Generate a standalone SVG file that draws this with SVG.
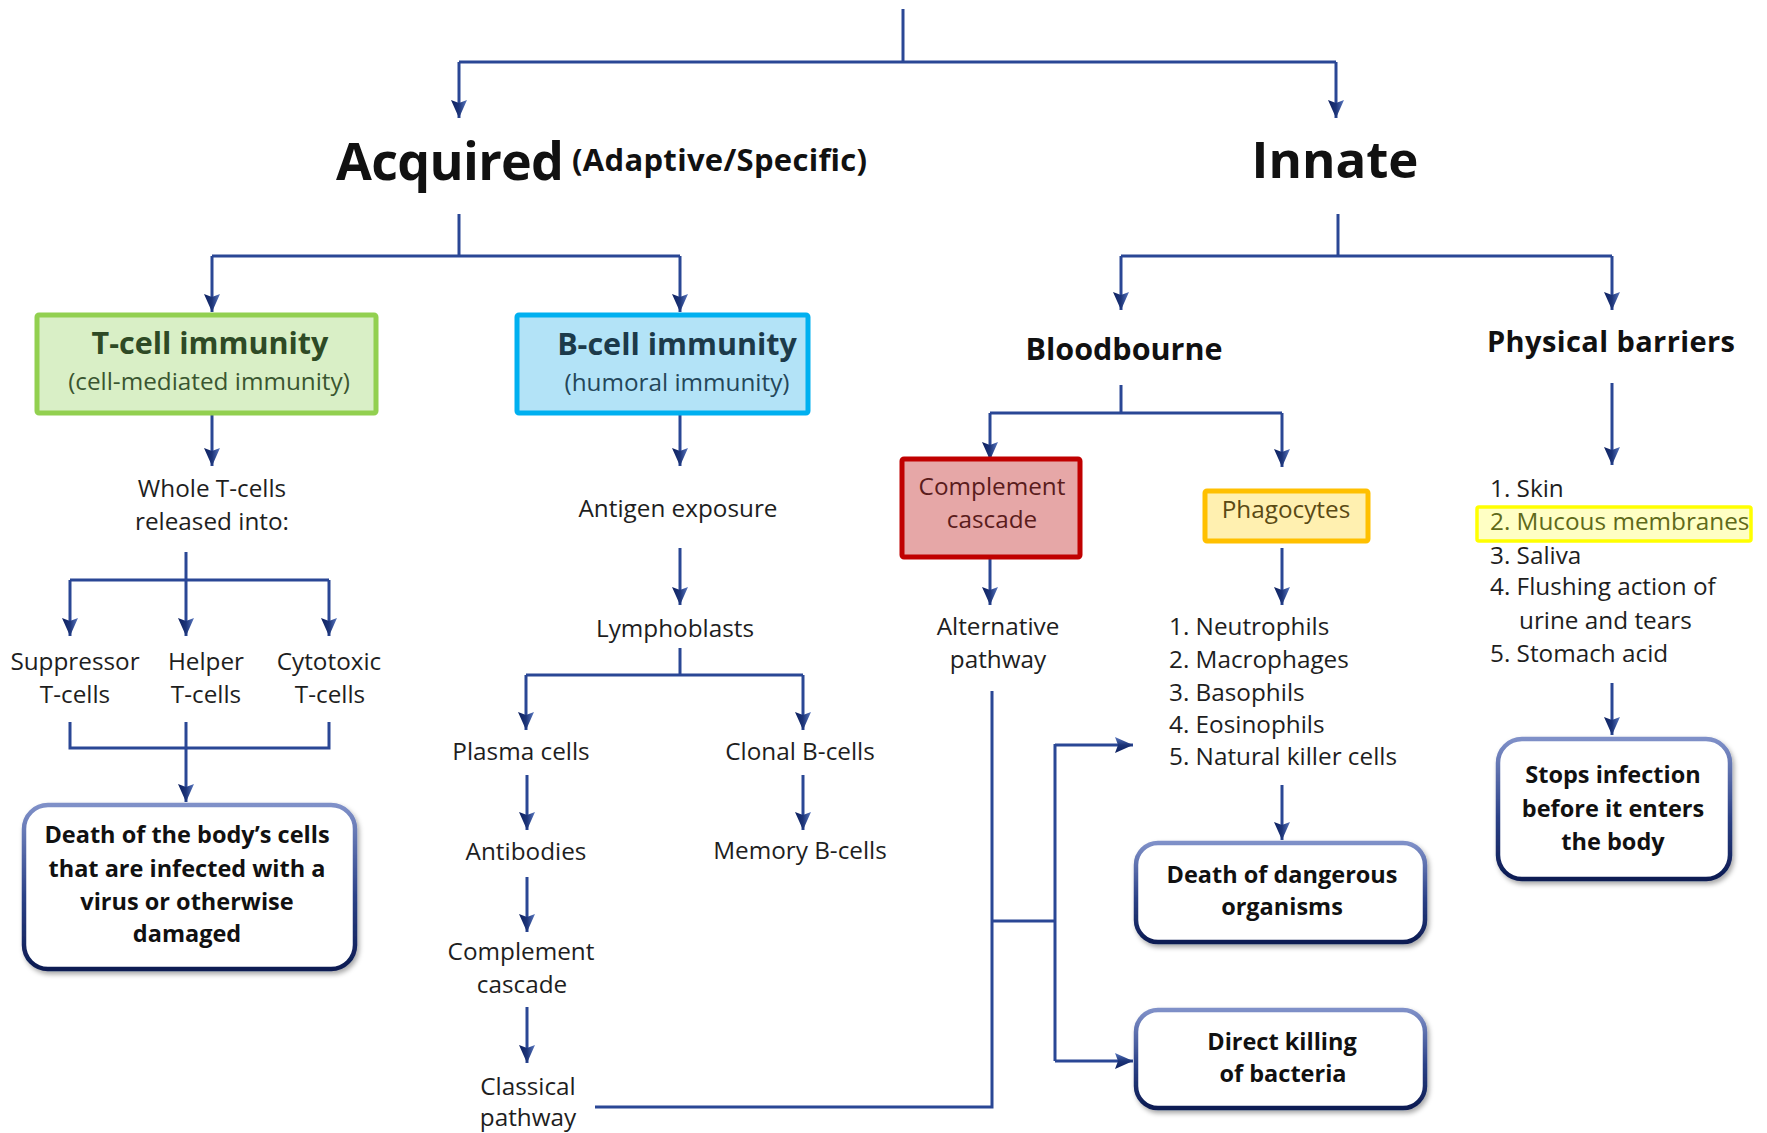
<svg xmlns="http://www.w3.org/2000/svg" width="1767" height="1133" viewBox="0 0 1767 1133">
  <defs>
    <linearGradient id="headFill" x1="0" y1="0" x2="0" y2="1">
      <stop offset="0" stop-color="#5a78c0"/>
      <stop offset="0.5" stop-color="#1c3478"/>
      <stop offset="1" stop-color="#0e2160"/>
    </linearGradient>
    <marker id="arrow" markerUnits="userSpaceOnUse" viewBox="0 0 18 16" markerWidth="18" markerHeight="16" refX="18" refY="8" orient="auto">
      <path d="M0,0 L18,8 L0,16 L3,8 z" fill="url(#headFill)"/>
    </marker>
    <linearGradient id="frame" x1="0" y1="0" x2="0" y2="1">
      <stop offset="0" stop-color="#7f90c8"/>
      <stop offset="0.55" stop-color="#2c4288"/>
      <stop offset="1" stop-color="#0c1b52"/>
    </linearGradient>
    <filter id="shadow" x="-10%" y="-10%" width="125%" height="130%">
      <feDropShadow dx="2" dy="3" stdDeviation="2.5" flood-color="#000" flood-opacity="0.35"/>
    </filter>
  </defs>
  <style>
    .t { font-family: "Open Sans", "Liberation Sans", sans-serif; font-size: 24.3px; fill: #1e1e1e; text-anchor: middle; }
    .l { text-anchor: start; }
    .b { font-family: "Open Sans", "Liberation Sans", sans-serif; font-weight: 700; fill: #111; text-anchor: middle; }
    .out { font-size: 23.5px; }
    .head { font-size: 30.5px; }
    .conn path { fill: none; stroke: #2a4795; stroke-width: 3; }
    .conn path.a { marker-end: url(#arrow); }
    .result { fill: #fff; stroke: url(#frame); stroke-width: 4.5; filter: url(#shadow); }
  </style>
  <rect width="1767" height="1133" fill="#fff"/>

  <!-- connectors -->
  <g id="connectors" class="conn">
    <path d="M903,9 V62"/>
    <path d="M459,62 H1336"/>
    <path class="a" d="M459,62 V118"/>
    <path class="a" d="M1336,62 V118"/>

    <path d="M459,214 V256"/>
    <path d="M212,256 H680"/>
    <path class="a" d="M212,256 V312"/>
    <path class="a" d="M680,256 V312"/>

    <path d="M1338,214 V256"/>
    <path d="M1121,256 H1612"/>
    <path class="a" d="M1121,256 V310"/>
    <path class="a" d="M1612,256 V310"/>

    <path class="a" d="M212,413 V466"/>
    <path d="M186,552 V580"/>
    <path d="M70,580 H329"/>
    <path class="a" d="M70,580 V636"/>
    <path class="a" d="M186,580 V636"/>
    <path class="a" d="M329,580 V636"/>
    <path d="M70,722 V748 H329 V722"/>
    <path class="a" d="M186,722 V802"/>

    <path class="a" d="M680,413 V466"/>
    <path class="a" d="M680,548 V605"/>
    <path d="M680,648 V675"/>
    <path d="M526,675 H803"/>
    <path class="a" d="M526,675 V730"/>
    <path class="a" d="M803,675 V730"/>
    <path class="a" d="M527,775 V830"/>
    <path class="a" d="M803,775 V830"/>
    <path class="a" d="M527,877 V932"/>
    <path class="a" d="M527,1007 V1063"/>

    <path d="M1121,385 V413"/>
    <path d="M990,413 H1282"/>
    <path class="a" d="M990,413 V460"/>
    <path class="a" d="M1282,413 V467"/>
    <path class="a" d="M990,548 V605"/>
    <path class="a" d="M1282,548 V605"/>

    <path d="M595,1107 H992 V691"/>
    <path d="M992,921 H1055"/>
    <path d="M1055,744 V1061"/>
    <path class="a" d="M1055,745 H1133"/>
    <path class="a" d="M1055,1061 H1133"/>
    <path class="a" d="M1282,785 V840"/>

    <path class="a" d="M1612,383 V465"/>
    <path class="a" d="M1612,683 V735"/>
  </g>

  <!-- top-level headings -->
  <g id="acquired">
    <text class="b" x="336" y="180" style="text-anchor:start;font-size:52px" textLength="228">Acquired</text>
    <text class="b" x="572" y="171" style="text-anchor:start;font-size:31px" textLength="295">(Adaptive/Specific)</text>
  </g>
  <g id="innate">
    <text class="b" x="1335" y="178" style="font-size:51px">Innate</text>
  </g>

  <!-- acquired: T-cell branch -->
  <g id="t-cell-immunity">
    <rect x="37" y="315" width="339" height="98" rx="2" fill="#d9efc6" stroke="#92d050" stroke-width="5"/>
    <text class="b head" x="210" y="354" style="fill:#2e4a25">T-cell immunity</text>
    <text class="t" x="209" y="390" style="fill:#3a5630">(cell-mediated immunity)</text>
  </g>
  <g id="whole-t-cells">
    <text class="t" x="212" y="497">Whole T-cells</text>
    <text class="t" x="212" y="530">released into:</text>
  </g>
  <g id="suppressor">
    <text class="t" x="75" y="670">Suppressor</text>
    <text class="t" x="75" y="703">T-cells</text>
  </g>
  <g id="helper">
    <text class="t" x="206" y="670">Helper</text>
    <text class="t" x="206" y="703">T-cells</text>
  </g>
  <g id="cytotoxic">
    <text class="t" x="329" y="670">Cytotoxic</text>
    <text class="t" x="330" y="703">T-cells</text>
  </g>
  <g id="death-of-cells">
    <rect class="result" x="24" y="805" width="331" height="164" rx="24"/>
    <text class="b out" x="187" y="843">Death of the body’s cells</text>
    <text class="b out" x="187" y="877">that are infected with a</text>
    <text class="b out" x="187" y="910">virus or otherwise</text>
    <text class="b out" x="187" y="942">damaged</text>
  </g>

  <!-- acquired: B-cell branch -->
  <g id="b-cell-immunity">
    <rect x="517" y="315" width="291" height="98" rx="2" fill="#b3e3f7" stroke="#00b0f0" stroke-width="5"/>
    <text class="b head" x="677" y="355" style="fill:#1c3a4a">B-cell immunity</text>
    <text class="t" x="677" y="391" style="fill:#24475a">(humoral immunity)</text>
  </g>
  <g id="antigen-exposure"><text class="t" x="678" y="517">Antigen exposure</text></g>
  <g id="lymphoblasts"><text class="t" x="675" y="637">Lymphoblasts</text></g>
  <g id="plasma-cells"><text class="t" x="521" y="760">Plasma cells</text></g>
  <g id="clonal-b-cells"><text class="t" x="800" y="760">Clonal B-cells</text></g>
  <g id="antibodies"><text class="t" x="526" y="860">Antibodies</text></g>
  <g id="memory-b-cells"><text class="t" x="800" y="859">Memory B-cells</text></g>
  <g id="complement-classical">
    <text class="t" x="521" y="960">Complement</text>
    <text class="t" x="522" y="993">cascade</text>
  </g>
  <g id="classical-pathway">
    <text class="t" x="528" y="1095">Classical</text>
    <text class="t" x="528" y="1126">pathway</text>
  </g>

  <!-- innate: bloodbourne branch -->
  <g id="bloodbourne"><text class="b head" x="1124" y="360">Bloodbourne</text></g>
  <g id="complement-cascade">
    <rect x="902" y="459" width="178" height="98" rx="2" fill="#e6a7a7" stroke="#c00000" stroke-width="5"/>
    <text class="t" x="992" y="495" style="fill:#5a1c1c">Complement</text>
    <text class="t" x="992" y="528" style="fill:#5a1c1c">cascade</text>
  </g>
  <g id="alternative-pathway">
    <text class="t" x="998" y="635">Alternative</text>
    <text class="t" x="998" y="668">pathway</text>
  </g>
  <g id="phagocytes">
    <rect x="1205" y="491" width="163" height="50" rx="2" fill="#fff0b0" stroke="#ffc000" stroke-width="5"/>
    <text class="t" x="1286" y="518" style="fill:#5a4a14">Phagocytes</text>
  </g>
  <g id="phagocyte-types">
    <text class="t l" x="1169" y="635">1. Neutrophils</text>
    <text class="t l" x="1169" y="668">2. Macrophages</text>
    <text class="t l" x="1169" y="701">3. Basophils</text>
    <text class="t l" x="1169" y="733">4. Eosinophils</text>
    <text class="t l" x="1169" y="765">5. Natural killer cells</text>
  </g>
  <g id="death-of-organisms">
    <rect class="result" x="1136" y="843" width="289" height="99" rx="22"/>
    <text class="b out" x="1282" y="883">Death of dangerous</text>
    <text class="b out" x="1282" y="915">organisms</text>
  </g>
  <g id="direct-killing">
    <rect class="result" x="1136" y="1010" width="289" height="98" rx="22"/>
    <text class="b out" x="1282" y="1050">Direct killing</text>
    <text class="b out" x="1283" y="1082">of bacteria</text>
  </g>

  <!-- innate: physical barriers branch -->
  <g id="physical-barriers"><text class="b" x="1611" y="352" style="font-size:29px" textLength="248">Physical barriers</text></g>
  <g id="barrier-list">
    <rect x="1477" y="507" width="274" height="34" rx="2" fill="#ffffc4" stroke="#ffff00" stroke-width="3.5"/>
    <text class="t l" x="1490" y="497">1. Skin</text>
    <text class="t l" x="1490" y="530" style="fill:#5f6a1a">2. Mucous membranes</text>
    <text class="t l" x="1490" y="564">3. Saliva</text>
    <text class="t l" x="1490" y="595">4. Flushing action of</text>
    <text class="t l" x="1519" y="629">urine and tears</text>
    <text class="t l" x="1490" y="662">5. Stomach acid</text>
  </g>
  <g id="stops-infection">
    <rect class="result" x="1498" y="739" width="232" height="140" rx="24"/>
    <text class="b out" x="1613" y="783">Stops infection</text>
    <text class="b out" x="1613" y="817">before it enters</text>
    <text class="b out" x="1613" y="850">the body</text>
  </g>
</svg>
